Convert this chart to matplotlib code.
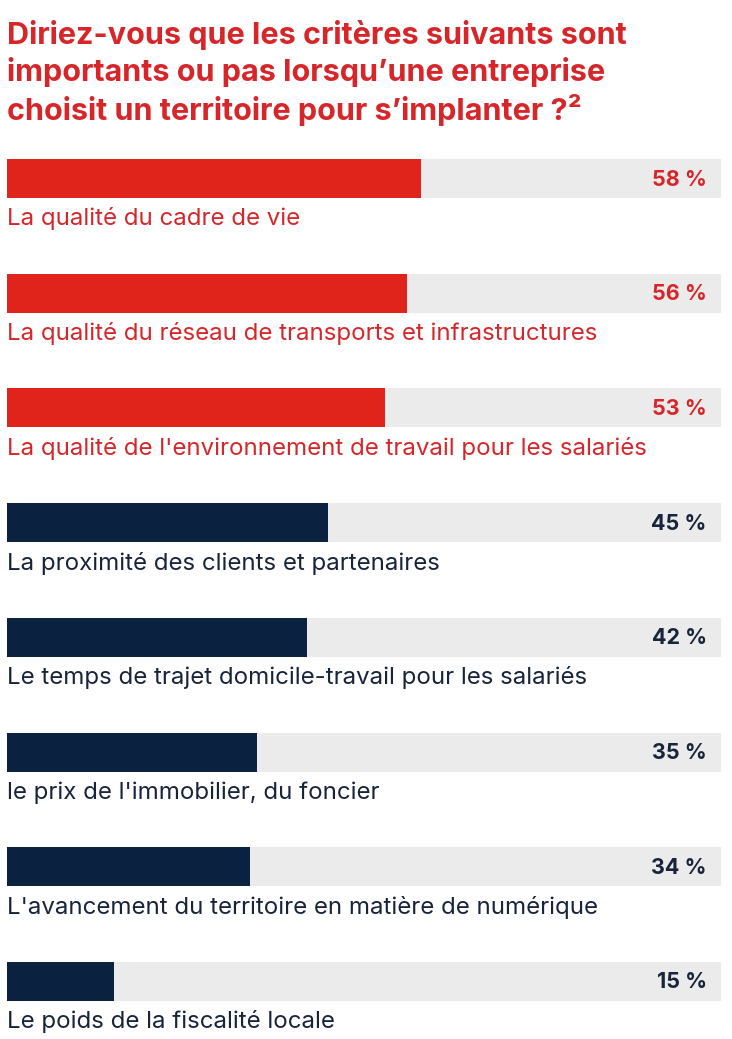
import matplotlib.pyplot as plt

# Data
labels = [
    "La qualité du cadre de vie",
    "La qualité du réseau de transports et infrastructures",
    "La qualité de l'environnement de travail pour les salariés",
    "La proximité des clients et partenaires",
    "Le temps de trajet domicile-travail pour les salariés",
    "le prix de l'immobilier, du foncier",
    "L'avancement du territoire en matière de numérique",
    "Le poids de la fiscalité locale",
]
values = [58, 56, 53, 45, 42, 35, 34, 15]
highlighted = [True, True, True, False, False, False, False, False]

title = ("Diriez-vous que les critères suivants sont\n"
         "importants ou pas lorsqu’une entreprise\n"
         "choisit un territoire pour s’implanter ?²")

RED = "#e0241b"
RED_TXT = "#d7262a"
NAVY = "#0a2240"
NAVY_TXT = "#17243a"
GREY = "#ebebeb"
FONT = "Inter"

W, H = 732, 1039
fig = plt.figure(figsize=(W / 100, H / 100), dpi=100)
fig.patch.set_facecolor("white")

# axes spans bar area horizontally (x in %), y in pixel rows
ax = fig.add_axes([7 / W, 0, 714 / W, 1])
ax.set_xlim(0, 100)
ax.set_ylim(H, 0)
ax.axis("off")

top0 = 159
step = 114.7
bar_h = 39
for i, (lab, v, hi) in enumerate(zip(labels, values, highlighted)):
    y = top0 + i * step + bar_h / 2
    ax.barh(y, 100, height=bar_h, color=GREY, left=0)
    ax.barh(y, v, height=bar_h, color=RED if hi else NAVY, left=0)
    ax.text(98, y + 1, f"{v} %", ha="right", va="center", fontsize=15.5,
            fontweight="bold", color=RED_TXT if hi else NAVY_TXT, family=FONT)
    ax.text(0, y + bar_h / 2 + 21, lab, ha="left", va="center", fontsize=17.3,
            color=RED_TXT if hi else NAVY_TXT, family=FONT)

fig.text(7 / W, 1 - 20 / H, title, ha="left", va="top", fontsize=22,
         fontweight="bold", color=RED_TXT, family=FONT, linespacing=1.28)

fig.savefig("out.png", dpi=100)
